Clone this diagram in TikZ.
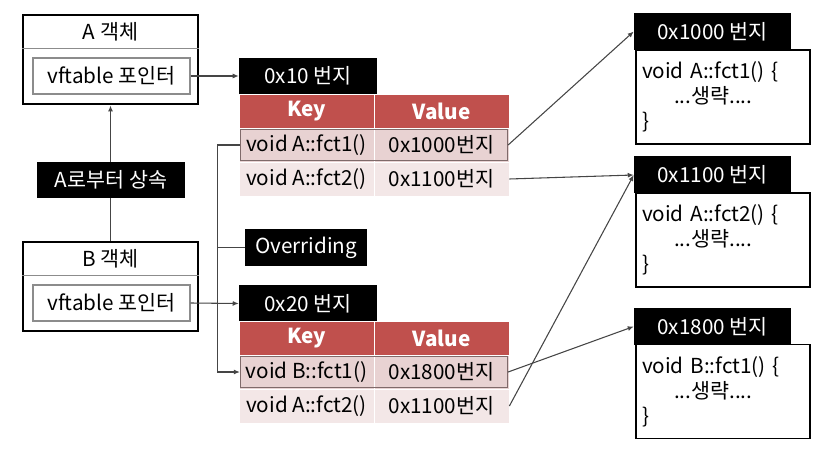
\documentclass[tikz,border=0pt]{standalone}
\usepackage{fontspec}
\usepackage{tikz}
\usetikzlibrary{arrows.meta,calc,fit,positioning}
\newfontfamily\krfont{Noto Sans CJK KR}
\definecolor{keyred}{HTML}{C0504D}
\definecolor{rowdark}{HTML}{E8D2D2}
\definecolor{rowlight}{HTML}{F3E7E7}
\definecolor{selgray}{HTML}{7F6A6A}
\definecolor{linegray}{HTML}{454545}
\definecolor{framegray}{HTML}{8C8C8C}

\begin{document}
\begin{tikzpicture}[
  x=0.75pt,
  y=-0.75pt,
  font=\krfont\fontsize{15.5}{18}\selectfont,
  objbox/.style={draw=black, line width=2.2pt, minimum width=131.25pt,
    minimum height=66.75pt, inner sep=0pt},
  objtitle/.style={minimum width=131.25pt, minimum height=24.75pt, inner sep=0pt},
  ptrbox/.style={draw=framegray, line width=0.9pt, fill=white,
    minimum width=117.75pt, minimum height=27pt, inner sep=0pt},
  tag/.style={fill=black, text=white, inner sep=0pt, minimum height=27pt},
  headcell/.style={fill=keyred, draw=white, line width=0.6pt, text=white,
    font=\krfont\bfseries\fontsize{15.5}{18}\selectfont,
    minimum width=101.25pt, minimum height=25.5pt, inner sep=0pt},
  cellA/.style={fill=rowdark, draw=white, line width=0.6pt,
    minimum width=101.25pt, minimum height=25.5pt, inner sep=0pt},
  cellB/.style={fill=rowlight, draw=white, line width=0.6pt,
    minimum width=101.25pt, minimum height=25.5pt, inner sep=0pt},
  selbox/.style={draw=selgray, line width=1.1pt, inner sep=-1.5pt},
  addrtag/.style={fill=black, text=white, minimum width=117.75pt,
    minimum height=27.75pt, inner sep=0pt},
  codebox/.style={draw=black, line width=1.1pt, fill=white, align=left,
    text width=121.5pt, minimum height=70.5pt, inner xsep=4.5pt, inner ysep=0pt,
    font=\krfont\fontsize{15.5}{18.75}\selectfont},
  link/.style={draw=linegray, line width=0.8pt},
  linkarrow/.style={-{Latex[length=4.5pt,width=3.75pt]}, draw=linegray, line width=0.8pt}
]
\useasboundingbox (0,0) rectangle (829,456);

% objects on the left
\node[objbox] (aobj) at (110.5,59.5) {};
\node[objtitle] (atitle) at (110.5,31.5) {A 객체};
\draw[framegray, line width=0.8pt] (atitle.south -| aobj.west) -- (atitle.south -| aobj.east);
\node[ptrbox] (aptr) at (111.5,76) {vftable 포인터};

\node[objbox] (bobj) at (110.5,286.5) {};
\node[objtitle] (btitle) at (110.5,259) {B 객체};
\draw[framegray, line width=0.8pt] (btitle.south -| bobj.west) -- (btitle.south -| bobj.east);
\node[ptrbox] (bptr) at (111.5,303) {vftable 포인터};

\draw[linkarrow] (bobj.north) -- (aobj.south);
\node[tag, minimum width=111pt] (inherit) at (111,180) {A로부터 상속};

% vftable of A
\node[tag, minimum width=103.5pt] (vta) at (308,76) {0x10 번지};
\node[headcell] (keya) at (306.5,111) {Key};
\node[headcell] (vala) at (441.5,111) {Value};
\node[cellA] (ka1) at (306.5,145) {void A::fct1()};
\node[cellA] (va1) at (441.5,145) {0x1000번지};
\node[cellB] (ka2) at (306.5,179) {void A::fct2()};
\node[cellB] (va2) at (441.5,179) {0x1100번지};
\node[selbox, fit=(ka1)(va1)] (sela) {};

% vftable of B
\node[tag, minimum width=103.5pt] (vtb) at (308,303.5) {0x20 번지};
\node[headcell] (keyb) at (306.5,338) {Key};
\node[headcell] (valb) at (441.5,338) {Value};
\node[cellA] (kb1) at (306.5,372) {void B::fct1()};
\node[cellA] (vb1) at (441.5,372) {0x1800번지};
\node[cellB] (kb2) at (306.5,406) {void A::fct2()};
\node[cellB] (vb2) at (441.5,406) {0x1100번지};
\node[selbox, fit=(kb1)(vb1)] (selb) {};

\node[tag, minimum width=91.5pt, minimum height=27.75pt] (ovr) at (306,247.5) {Overriding};

% functions on the right
\node[codebox] (fa1) at (723,97)
  {void A::fct1() \{\\\hspace*{24pt}...생략....\\\}};
\node[addrtag] (fa1addr) at (712.5,31.5) {0x1000 번지};
\node[codebox] (fa2) at (723,240)
  {void A::fct2() \{\\\hspace*{24pt}...생략....\\\}};
\node[addrtag] (fa2addr) at (712.5,175) {0x1100 번지};
\node[codebox] (fb1) at (723,391.5)
  {void B::fct1() \{\\\hspace*{24pt}...생략....\\\}};
\node[addrtag] (fb1addr) at (712.5,326.5) {0x1800 번지};

% pointers
\draw[linkarrow] (aptr.east) -- (vta.west);
\draw[linkarrow] (bptr.east) -- (vtb.west);
\draw[linkarrow] (sela.west) -- ++(-22,0) coordinate (bend) |- (selb.west);
\draw[link] (ovr.west) -- (ovr.west -| bend);

\draw[linkarrow] (sela.east) -- (fa1addr.west);
\draw[linkarrow] (va2.east) -- (fa2addr.west);
\draw[linkarrow] (vb2.east) -- (fa2addr.west);
\draw[linkarrow] (selb.east) -- (fb1addr.west);

\end{tikzpicture}
\end{document}
